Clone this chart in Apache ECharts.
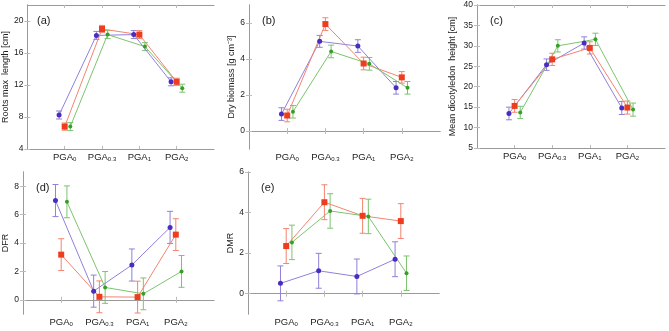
<!DOCTYPE html>
<html>
<head>
<meta charset="utf-8">
<script src="https://cdn.jsdelivr.net/npm/echarts@6/dist/echarts.min.js"></script>
<style>
  html, body { margin: 0; padding: 0; background: #fff; }
  #chart { width: 669px; height: 331px; }
</style>
</head>
<body>
<div id="chart"></div>
<script>
// x categories (subscripts of PGA)
const categories = ['0', '0.3', '1', '2'];

// (a) roots max length
const rootsBlue = [8.25, 18.2, 18.3, 12.4];
const rootsBlueErr = [0.5, 0.5, 0.5, 0.5];
const rootsRed = [6.8, 19.0, 18.3, 12.4];
const rootsRedErr = [0.45, 0.45, 0.5, 0.45];
const rootsGreen = [6.8, 18.3, 16.8, 11.6];
const rootsGreenErr = [0.5, 0.5, 0.5, 0.5];

// (b) dry biomass
const biomassBlue = [0.94, 4.98, 4.72, 2.4];
const biomassBlueErr = [0.35, 0.33, 0.35, 0.35];
const biomassRed = [0.86, 5.94, 3.75, 2.98];
const biomassRedErr = [0.35, 0.35, 0.35, 0.32];
const biomassGreen = [1.07, 4.42, 3.73, 2.4];
const biomassGreenErr = [0.35, 0.35, 0.35, 0.35];

// (c) mean dicotyledon height
const heightBlue = [13.45, 25.4, 30.7, 14.8];
const heightBlueErr = [1.55, 1.4, 1.5, 1.6];
const heightRed = [15.3, 26.7, 29.5, 14.9];
const heightRedErr = [1.55, 1.5, 1.5, 1.6];
const heightGreen = [13.7, 30.0, 31.6, 14.4];
const heightGreenErr = [1.5, 1.5, 1.5, 1.6];

// (d) DFR
const dfrBlue = [6.99, 0.61, 2.45, 5.1];
const dfrBlueErr = [1.13, 1.13, 1.13, 1.13];
const dfrRed = [3.18, 0.21, 0.19, 4.59];
const dfrRedErr = [1.12, 1.12, 1.12, 1.12];
const dfrGreen = [6.9, 0.87, 0.42, 2.0];
const dfrGreenErr = [1.12, 1.12, 1.12, 1.12];

// (e) DMR
const dmrBlue = [0.51, 1.13, 0.85, 1.7];
const dmrBlueErr = [0.86, 0.86, 0.86, 0.86];
const dmrRed = [2.35, 4.51, 3.84, 3.58];
const dmrRedErr = [0.86, 0.86, 0.86, 0.86];
const dmrGreen = [2.53, 4.08, 3.81, 1.01];
const dmrGreenErr = [0.85, 0.85, 0.85, 0.85];

const chart = echarts.init(document.getElementById('chart'));

const grids = [
    { left: 24, top: 5, width: 190, height: 144 },
    { left: 249, top: 5, width: 191, height: 144 },
    { left: 477, top: 5, width: 188, height: 143 },
    { left: 23, top: 172, width: 191, height: 142 },
    { left: 248, top: 172, width: 191, height: 142 }
];

const panels = [
    { tag: '(a)', name: 'Roots max  length [cm]', min: 4, max: 22, ticks: [4, 8, 12, 16, 20], gap: 17,
      groups: [[rootsBlue, rootsBlueErr], [rootsRed, rootsRedErr], [rootsGreen, rootsGreenErr]] },
    { tag: '(b)', name: 'Dry biomass [g cm⁻³]', min: -1, max: 7, ticks: [0, 2, 4, 6], gap: 13,
      groups: [[biomassBlue, biomassBlueErr], [biomassRed, biomassRedErr], [biomassGreen, biomassGreenErr]] },
    { tag: '(c)', name: 'Mean dicotyledon  height [cm]', min: 5, max: 40, ticks: [5, 10, 15, 20, 25, 30, 35, 40], gap: 20,
      groups: [[heightBlue, heightBlueErr], [heightRed, heightRedErr], [heightGreen, heightGreenErr]] },
    { tag: '(d)', name: 'DFR', min: -1, max: 9, ticks: [0, 2, 4, 6, 8], gap: 10,
      groups: [[dfrBlue, dfrBlueErr], [dfrRed, dfrRedErr], [dfrGreen, dfrGreenErr]] },
    { tag: '(e)', name: 'DMR', min: -1, max: 6, ticks: [0, 2, 4, 6], gap: 12,
      groups: [[dmrBlue, dmrBlueErr], [dmrRed, dmrRedErr], [dmrGreen, dmrGreenErr]] }
];

// blue, red, green groups
const markColors = ['#4a2cc0', '#ee3d1e', '#35a024'];
const lineColors = ['#8f80da', '#f3846f', '#7cc46e'];
const symbols = ['circle', 'rect', 'circle'];
const symbolSizes = [5, 6, 4];
const offsets = [-0.15, 0, 0.15];

const frame = '#9a9a9a';

const xAxes = [];
const yAxes = [];
const series = [];
const titles = [];

panels.forEach((p, i) => {
    xAxes.push({
        type: 'value', gridIndex: i, min: 0, max: 5, interval: 1,
        axisLine: { lineStyle: { color: frame } },
        axisTick: { inside: true, length: 3, lineStyle: { color: '#bbb' }, customValues: [1, 2, 3, 4] },
        splitLine: { show: false },
        axisLabel: {
            customValues: [1, 2, 3, 4],
            margin: 3,
            formatter: v => '{a|PGA}{s|' + categories[Math.round(v) - 1] + '}',
            rich: {
                a: { fontSize: 9.5, color: '#222', fontFamily: 'Liberation Sans' },
                s: { fontSize: 6, color: '#222', fontFamily: 'Liberation Sans', padding: [4, 0, 0, 0] }
            }
        }
    });
    xAxes.push({
        type: 'value', gridIndex: i, min: 0, max: 5, interval: 1, position: 'top',
        axisLine: { lineStyle: { color: frame } },
        axisTick: { inside: true, length: 3, lineStyle: { color: '#bbb' }, customValues: [1, 2, 3, 4] },
        axisLabel: { show: false }, splitLine: { show: false }
    });
    yAxes.push({
        type: 'value', gridIndex: i, min: p.min, max: p.max,
        name: p.name, nameLocation: 'middle', nameGap: p.gap,
        nameTextStyle: { fontSize: 9, color: '#222', fontFamily: 'Liberation Sans' },
        axisLine: { lineStyle: { color: frame } },
        axisTick: { inside: true, length: 3, lineStyle: { color: '#bbb' }, customValues: p.ticks },
        splitLine: { show: false },
        axisLabel: { customValues: p.ticks, fontSize: 8.5, color: '#222', margin: 4, fontFamily: 'Liberation Sans' }
    });
    yAxes.push({
        type: 'value', gridIndex: i, min: p.min, max: p.max, position: 'right',
        axisLine: { lineStyle: { color: frame } },
        axisTick: { inside: true, length: 3, lineStyle: { color: '#bbb' }, customValues: p.ticks },
        axisLabel: { show: false }, splitLine: { show: false }
    });
    titles.push({
        text: p.tag,
        left: grids[i].left + 8, top: grids[i].top + 5,
        textStyle: { fontSize: 11, fontWeight: 'normal', color: '#222', fontFamily: 'Liberation Sans' }
    });

    p.groups.forEach((g, k) => {
        const pts = g[0].map((v, j) => [j + 1 + offsets[k], v, g[1][j]]);
        series.push({
            type: 'custom',
            xAxisIndex: 2 * i, yAxisIndex: 2 * i,
            clip: true,
            data: pts,
            z: 2,
            renderItem: (params, api) => {
                const x = api.value(0), y = api.value(1), e = api.value(2);
                const top = api.coord([x, y + e]);
                const bot = api.coord([x, y - e]);
                const st = { stroke: lineColors[k], lineWidth: 1 };
                return {
                    type: 'group',
                    children: [
                        { type: 'line', shape: { x1: top[0], y1: top[1], x2: bot[0], y2: bot[1] }, style: st },
                        { type: 'line', shape: { x1: top[0] - 3, y1: top[1], x2: top[0] + 3, y2: top[1] }, style: st },
                        { type: 'line', shape: { x1: bot[0] - 3, y1: bot[1], x2: bot[0] + 3, y2: bot[1] }, style: st }
                    ]
                };
            }
        });
        series.push({
            type: 'line',
            xAxisIndex: 2 * i, yAxisIndex: 2 * i,
            data: pts.map(d => [d[0], d[1]]),
            symbol: symbols[k],
            symbolSize: symbolSizes[k],
            showSymbol: true,
            z: 3,
            lineStyle: { color: lineColors[k], width: 1 },
            itemStyle: { color: markColors[k] },
            animation: false
        });
    });
});

chart.setOption({
    animation: false,
    title: titles,
    grid: grids,
    xAxis: xAxes,
    yAxis: yAxes,
    series: series
});

window.addEventListener('resize', () => chart.resize());
</script>
</body>
</html>
